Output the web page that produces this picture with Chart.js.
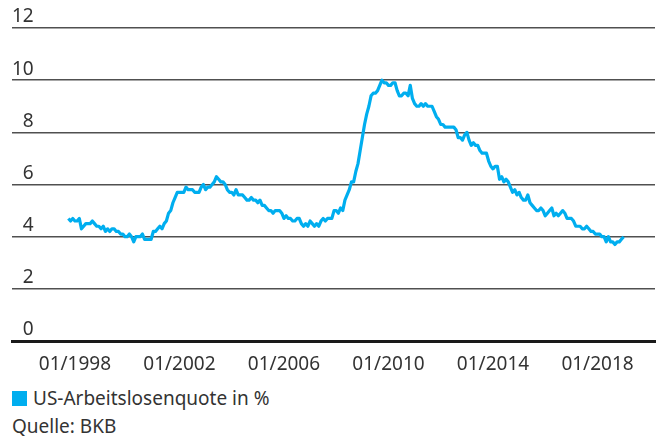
<!DOCTYPE html>
<html>
<head>
<meta charset="utf-8">
<script src="https://cdn.jsdelivr.net/npm/chart.js@4.4.1/dist/chart.umd.min.js"></script>
<style>
  body { margin: 0; background: #fff; font-family: 'Noto Sans', sans-serif; color: #333; }
  #wrap { position: relative; width: 658px; height: 444px; }
  #chart_box { position: absolute; left: 0; top: 0; width: 658px; height: 380px; }
  .legend { position: absolute; left: 12px; top: 382px; font-size: 19px; line-height: 32px; }
  .legend span { display: inline-block; width: 15px; height: 15px; background: #00aeef; vertical-align: -1px; margin-right: 6px; }
  .source { position: absolute; left: 12px; top: 415px; font-size: 19px; line-height: 22px; }
</style>
</head>
<body>
<div id="wrap">
  <div id="chart_box"><canvas id="chart_1"></canvas></div>
  <div class="legend"><span></span>US-Arbeitslosenquote in %</div>
  <div class="source">Quelle: BKB</div>
</div>
<script>
// US-Arbeitslosenquote in %, monatlich, ab 10/1997
const firstMonth = -3; // Monate relativ zu 01/1998
const rate1997 = [4.7, 4.6, 4.7];
const rate1998 = [4.6, 4.6, 4.7, 4.3, 4.4, 4.5, 4.5, 4.5, 4.6, 4.5, 4.4, 4.4];
const rate1999 = [4.3, 4.4, 4.2, 4.3, 4.2, 4.3, 4.3, 4.2, 4.2, 4.1, 4.1, 4.0];
const rate2000 = [4.0, 4.1, 4.0, 3.8, 4.0, 4.0, 4.0, 4.1, 3.9, 3.9, 3.9, 3.9];
const rate2001 = [4.2, 4.2, 4.3, 4.4, 4.3, 4.5, 4.6, 4.9, 5.0, 5.3, 5.5, 5.7];
const rate2002 = [5.7, 5.7, 5.7, 5.9, 5.8, 5.8, 5.8, 5.7, 5.7, 5.7, 5.9, 6.0];
const rate2003 = [5.8, 5.9, 5.9, 6.0, 6.1, 6.3, 6.2, 6.1, 6.1, 6.0, 5.8, 5.7];
const rate2004 = [5.7, 5.6, 5.8, 5.6, 5.6, 5.6, 5.5, 5.4, 5.4, 5.5, 5.4, 5.4];
const rate2005 = [5.3, 5.4, 5.2, 5.2, 5.1, 5.0, 5.0, 4.9, 5.0, 5.0, 5.0, 4.9];
const rate2006 = [4.7, 4.8, 4.7, 4.7, 4.6, 4.6, 4.7, 4.7, 4.5, 4.4, 4.5, 4.4];
const rate2007 = [4.6, 4.5, 4.4, 4.5, 4.4, 4.6, 4.7, 4.6, 4.7, 4.7, 4.7, 5.0];
const rate2008 = [5.0, 4.9, 5.1, 5.0, 5.4, 5.6, 5.8, 6.1, 6.1, 6.5, 6.8, 7.3];
const rate2009 = [7.8, 8.3, 8.7, 9.0, 9.4, 9.5, 9.5, 9.6, 9.8, 10.0, 9.9, 9.9];
const rate2010 = [9.8, 9.8, 9.9, 9.9, 9.6, 9.4, 9.4, 9.5, 9.5, 9.4, 9.8, 9.3];
const rate2011 = [9.1, 9.0, 9.0, 9.1, 9.0, 9.1, 9.0, 9.0, 9.0, 8.8, 8.6, 8.5];
const rate2012 = [8.3, 8.3, 8.2, 8.2, 8.2, 8.2, 8.2, 8.1, 7.8, 7.8, 7.7, 7.9];
const rate2013 = [8.0, 7.7, 7.5, 7.6, 7.5, 7.5, 7.3, 7.2, 7.2, 7.2, 6.9, 6.7];
const rate2014 = [6.6, 6.7, 6.7, 6.2, 6.3, 6.1, 6.2, 6.1, 5.9, 5.7, 5.8, 5.6];
const rate2015 = [5.7, 5.5, 5.4, 5.4, 5.6, 5.3, 5.2, 5.1, 5.0, 5.0, 5.1, 5.0];
const rate2016 = [4.8, 4.9, 5.0, 5.1, 4.8, 4.9, 4.8, 4.9, 5.0, 4.9, 4.7, 4.7];
const rate2017 = [4.7, 4.6, 4.4, 4.4, 4.4, 4.3, 4.3, 4.4, 4.3, 4.2, 4.2, 4.1];
const rate2018 = [4.1, 4.1, 4.0, 4.0, 3.8, 4.0, 3.8, 3.8, 3.7, 3.8, 3.8, 3.9];
const rate2019 = [4.0];

const xTickMonths = [0, 48, 96, 144, 192, 240];
const xTickLabels = ['01/1998', '01/2002', '01/2006', '01/2010', '01/2014', '01/2018'];
const yTicks = [0, 2, 4, 6, 8, 10, 12];

const rates = [].concat(rate1997, rate1998, rate1999, rate2000, rate2001, rate2002,
  rate2003, rate2004, rate2005, rate2006, rate2007, rate2008, rate2009, rate2010,
  rate2011, rate2012, rate2013, rate2014, rate2015, rate2016, rate2017, rate2018, rate2019);

const points = rates.map(function (v, i) {
  return { x: firstMonth + i, y: v };
});

Chart.defaults.font.family = "'Noto Sans', sans-serif";
Chart.defaults.font.size = 19;
Chart.defaults.color = '#333';

new Chart('chart_1', {
  type: 'line',
  data: {
    datasets: [
      {
        label: 'US-Arbeitslosenquote in %',
        data: points,
        borderColor: '#00aeef',
        borderWidth: 3.2,
        pointRadius: 0,
        tension: 0,
        borderJoinStyle: 'round',
      },
    ],
  },
  options: {
    responsive: true,
    maintainAspectRatio: false,
    animation: false,
    layout: { padding: { left: 12, right: 3, top: 28, bottom: 0 } },
    plugins: { legend: { display: false }, tooltip: { enabled: false } },
    scales: {
      x: {
        type: 'linear',
        min: -28.9,
        max: 266.4,
        afterBuildTicks: function (scale) {
          scale.ticks = xTickMonths.map(function (v) { return { value: v }; });
        },
        afterFit: function (scale) { scale.height = 39; },
        ticks: {
          padding: 12,
          maxRotation: 0,
          autoSkip: false,
          callback: function (v) {
            return xTickLabels[xTickMonths.indexOf(v)];
          },
        },
        grid: { display: false, drawTicks: false },
        border: { display: true, color: '#1a1a1a', width: 3 },
      },
      y: {
        min: 0,
        max: 12,
        afterBuildTicks: function (scale) {
          scale.ticks = yTicks.map(function (v) { return { value: v }; });
        },
        afterFit: function (scale) { scale.width = 0; },
        ticks: {
          mirror: true,
          crossAlign: 'far',
          padding: 0,
          labelOffset: -11,
        },
        grid: {
          drawTicks: false,
          lineWidth: 1.6,
          color: function (ctx) {
            return ctx.tick && ctx.tick.value === 0 ? 'rgba(0,0,0,0)' : '#505050';
          },
        },
        border: { display: false },
      },
    },
  },
});
</script>
</body>
</html>
